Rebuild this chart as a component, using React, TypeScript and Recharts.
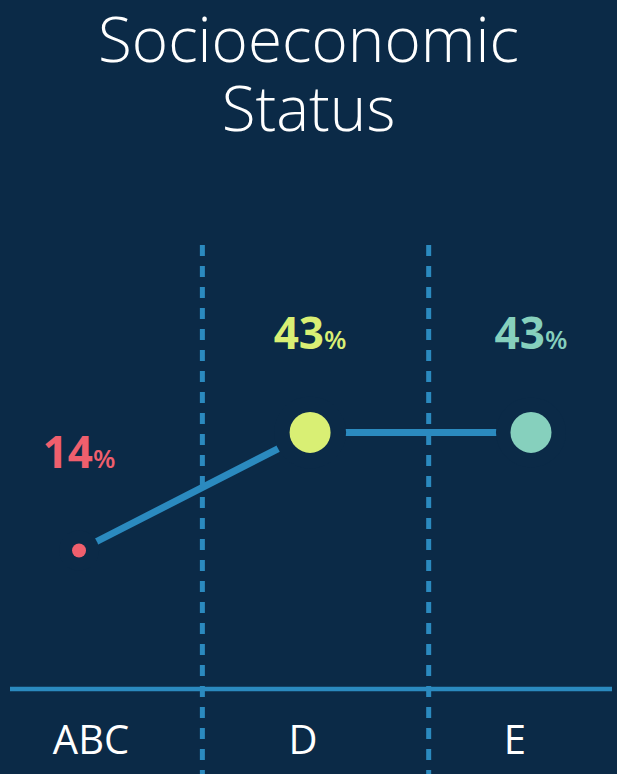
import React from 'react';
import { LineChart, Line, XAxis, YAxis, ReferenceLine, LabelList } from 'recharts';

// Data
const categories = ['ABC', 'D', 'E'];
const values = [14, 43, 43];
// horizontal position of each point and each category label, in column units
const pointPos = [-0.045, 0.976, 1.952];
const labelPos = [0.008, 0.945, 1.881];
const dividers = [0.5, 1.5];
const titleLines = ['Socioeconomic', 'Status'];

// Styles
const BG = '#0b2a47';
const BLUE = '#2b8abf';
const pointColors = ['#ef5f6d', '#d9ef74', '#86d0bd'];
const pointRadii = [7, 20.5, 20.5];
const gapRadii = [20, 36, 35];

const rows = values.map((v, i) => ({ name: categories[i], pos: pointPos[i], value: v }));

const FONT = '"Open Sans", "Noto Sans", sans-serif';

const renderDot = (props: any) => {
  const { cx, cy, index } = props;
  return (
    <g key={`dot-${index}`}>
      <circle cx={cx} cy={cy} r={gapRadii[index]} fill={BG} />
      <circle cx={cx} cy={cy} r={pointRadii[index]} fill={pointColors[index]} />
    </g>
  );
};

const renderValueLabel = (props: any) => {
  const { x, y, value, index } = props;
  return (
    <text
      key={`lbl-${index}`}
      x={x}
      y={y - 83}
      textAnchor="middle"
      fill={pointColors[index]}
      fontFamily={FONT}
    >
      <tspan fontSize={44} fontWeight={700}>{value}</tspan>
      <tspan fontSize={26} fontWeight={600}>%</tspan>
    </text>
  );
};

export default function App() {
  return (
    <div
      style={{
        position: 'fixed',
        top: 0,
        left: 0,
        width: 617,
        height: 774,
        background: BG,
        overflow: 'hidden',
      }}
    >
      {titleLines.map((t, i) => (
        <div
          key={t}
          style={{
            position: 'absolute',
            top: 4 + i * 69,
            left: 0,
            width: 617,
            textAlign: 'center',
            color: '#ffffff',
            fontFamily: FONT,
            fontWeight: 300,
            fontSize: 62,
            lineHeight: '69px',
            height: 69,
          }}
        >
          {t}
        </div>
      ))}
      <div style={{ position: 'absolute', top: 0, left: 0 }}>
        <LineChart
          width={617}
          height={774}
          data={rows}
          margin={{ top: 245, right: 5, bottom: 0, left: 10 }}
        >
          <XAxis
            dataKey="pos"
            type="number"
            domain={[-0.35, 2.31]}
            allowDataOverflow
            ticks={labelPos}
            interval={0}
            tickFormatter={(_v: any, i: number) => categories[i]}
            height={85}
            axisLine={{ stroke: BLUE, strokeWidth: 4.5 }}
            tickLine={false}
            tickMargin={31}
            tick={{ fill: '#ffffff', fontSize: 40, fontFamily: FONT, fontWeight: 400 }}
          />
          <YAxis hide type="number" domain={[-20, 89]} allowDataOverflow />
          {dividers.map((d) => (
            <ReferenceLine
              key={`div-${d}`}
              segment={[
                { x: d, y: 89 },
                { x: d, y: -41 },
              ]}
              ifOverflow="visible"
              stroke={BLUE}
              strokeWidth={5}
              strokeDasharray="11 10"
            />
          ))}
          <Line
            type="linear"
            dataKey="value"
            stroke={BLUE}
            strokeWidth={7}
            dot={renderDot}
            activeDot={false}
            isAnimationActive={false}
          >
            <LabelList dataKey="value" content={renderValueLabel} />
          </Line>
        </LineChart>
      </div>
    </div>
  );
}
